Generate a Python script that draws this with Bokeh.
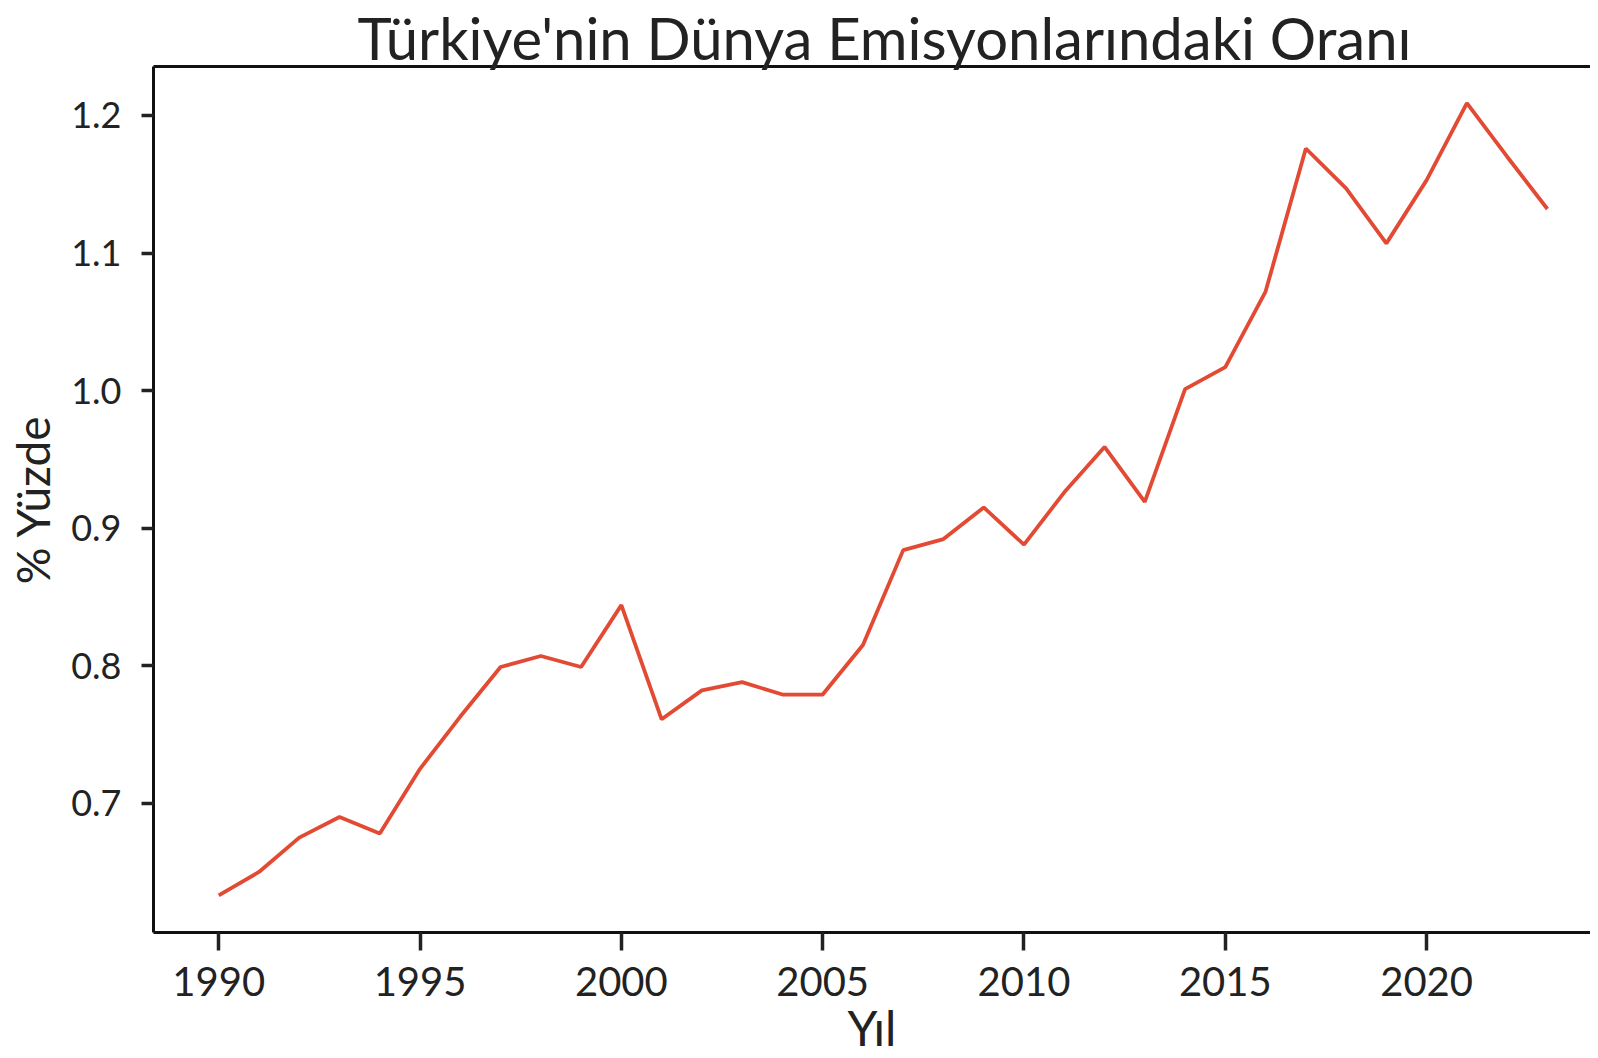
from bokeh.plotting import figure
from bokeh.models import LinearAxis, Range1d, FixedTicker, PrintfTickFormatter
from bokeh.embed import file_html
from bokeh.resources import INLINE

years = list(range(1990, 2024))
share = [0.633, 0.650, 0.675, 0.690, 0.678, 0.725, 0.763, 0.799, 0.807, 0.799,
         0.844, 0.761, 0.782, 0.788, 0.779, 0.779, 0.815, 0.884, 0.892, 0.915,
         0.888, 0.926, 0.959, 0.919, 1.001, 1.017, 1.072, 1.176, 1.147, 1.107,
         1.153, 1.209, 1.170, 1.132]
x_ticks = [1990, 1995, 2000, 2005, 2010, 2015, 2020]
y_ticks = [0.7, 0.8, 0.9, 1.0, 1.1, 1.2]
title_text = "Türkiye'nin Dünya Emisyonlarındaki Oranı"
x_label = "Yıl"
y_label = "% Yüzde"

FONT = "Lato"

p = figure(width=1590, height=1058, output_backend="svg", toolbar_location=None,
           x_range=Range1d(1988.38, 2024.07), y_range=Range1d(0.606, 1.2356),
           min_border_left=153, min_border_right=0, min_border_top=66,
           min_border_bottom=118)

p.line(years, share, line_color="#E24A33", line_width=3.8)

p.outline_line_color = None
p.grid.visible = False
p.background_fill_color = "white"
p.border_fill_color = "white"

# title
p.title.text = title_text
p.title.text_font = FONT
p.title.text_font_size = "58px"
p.title.text_font_style = "normal"
p.title.text_color = "#222222"
p.title.align = "left"
p.title.offset = 204
p.title.vertical_align = "top"
p.title.standoff = -15

for ax in (p.xaxis[0], p.yaxis[0]):
    ax.axis_line_width = 3
    ax.axis_line_color = "#111111"
    ax.major_tick_line_width = 3.5
    ax.major_tick_line_color = "#222222"
    ax.major_tick_in = 0
    ax.minor_tick_line_color = None
    ax.major_label_text_font = FONT
    ax.major_label_text_color = "#222222"
    ax.axis_label_text_font = FONT
    ax.axis_label_text_font_style = "normal"
    ax.axis_label_text_color = "#222222"

p.xaxis.ticker = FixedTicker(ticks=x_ticks)
p.xaxis.major_tick_out = 18
p.xaxis.major_label_standoff = 16
p.xaxis.major_label_text_font_size = "40px"
p.xaxis.axis_label = x_label
p.xaxis.axis_label_text_font_size = "48px"
p.xaxis.axis_label_standoff = 0

p.yaxis.ticker = FixedTicker(ticks=y_ticks)
p.yaxis.formatter = PrintfTickFormatter(format="%.1f")
p.yaxis.major_tick_out = 12
p.yaxis.major_label_standoff = 20
p.yaxis.major_label_text_font_size = "36px"
p.yaxis.axis_label = y_label
p.yaxis.axis_label_text_font_size = "46px"
p.yaxis.axis_label_standoff = 8

top = LinearAxis(ticker=FixedTicker(ticks=[]), axis_line_width=3, axis_line_color="#111111",
                 major_tick_out=0, major_tick_in=0, minor_tick_out=0, minor_tick_in=0,
                 major_label_text_font_size="0px", major_label_standoff=0)
p.add_layout(top, "above")

open("out.html", "w").write(file_html(p, INLINE))
